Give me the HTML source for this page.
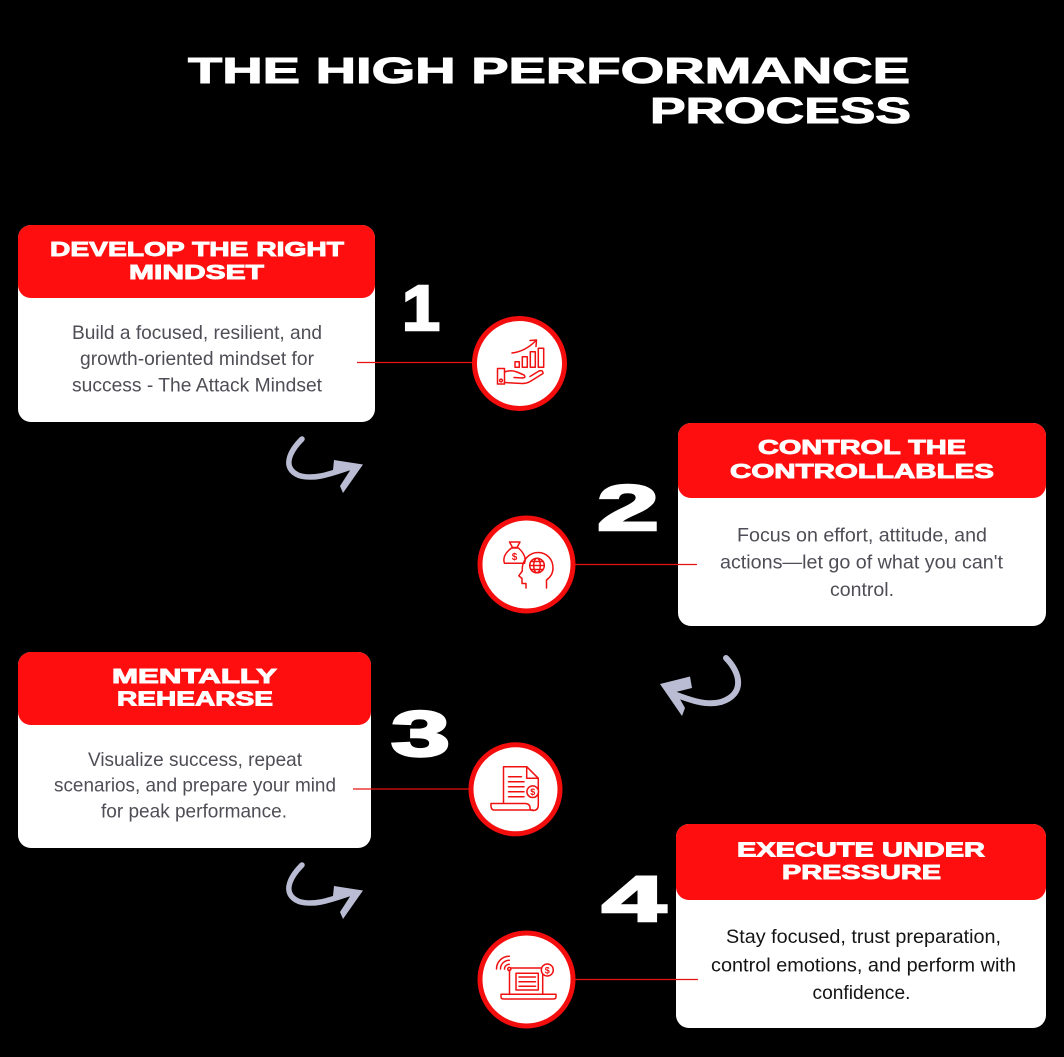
<!DOCTYPE html>
<html>
<head>
<meta charset="utf-8">
<style>
html,body{margin:0;padding:0;background:#000;}
svg{display:block;}
.t{font-family:"Liberation Sans",Arial,sans-serif;}
</style>
</head>
<body>
<svg width="1064" height="1057" viewBox="0 0 1064 1057" xmlns="http://www.w3.org/2000/svg">
<rect x="0" y="0" width="1064" height="1057" fill="#000"/>

<!-- Title -->
<g class="t" font-weight="700" font-size="36" fill="#fff" stroke="#fff" stroke-width="1">
<text x="188" y="83" textLength="722" lengthAdjust="spacingAndGlyphs">THE HIGH PERFORMANCE</text>
<text x="650" y="123" textLength="261" lengthAdjust="spacingAndGlyphs">PROCESS</text>
</g>

<!-- Cards -->
<g>
<rect x="18" y="225" width="357" height="197" rx="13" fill="#fff"/>
<rect x="18" y="225" width="357" height="73" rx="13" fill="#fe0e0e"/>

<rect x="678" y="423" width="368" height="203" rx="13" fill="#fff"/>
<rect x="678" y="423" width="368" height="75" rx="13" fill="#fe0e0e"/>

<rect x="18" y="652" width="353" height="196" rx="13" fill="#fff"/>
<rect x="18" y="652" width="353" height="73" rx="13" fill="#fe0e0e"/>

<rect x="676" y="824" width="370" height="204" rx="13" fill="#fff"/>
<rect x="676" y="824" width="370" height="76" rx="13" fill="#fe0e0e"/>
</g>

<!-- Connector lines -->
<g stroke="#e81010" stroke-width="1.3">
<line x1="357" y1="362.5" x2="474" y2="362.5"/>
<line x1="575" y1="564.5" x2="697" y2="564.5"/>
<line x1="353" y1="789" x2="470" y2="789"/>
<line x1="575" y1="979.5" x2="698" y2="979.5"/>
</g>

<!-- Header texts -->
<g class="t" font-weight="700" font-size="20" fill="#fff" stroke="#fff" stroke-width="0.9">
<text x="50" y="256" textLength="294" lengthAdjust="spacingAndGlyphs">DEVELOP THE RIGHT</text>
<text x="129" y="279" textLength="135" lengthAdjust="spacingAndGlyphs">MINDSET</text>

<text x="758" y="454" textLength="208" lengthAdjust="spacingAndGlyphs">CONTROL THE</text>
<text x="730" y="478" textLength="264" lengthAdjust="spacingAndGlyphs">CONTROLLABLES</text>

<text x="112" y="683" textLength="165" lengthAdjust="spacingAndGlyphs">MENTALLY</text>
<text x="117" y="705.5" textLength="156" lengthAdjust="spacingAndGlyphs">REHEARSE</text>

<text x="737" y="856.5" textLength="248" lengthAdjust="spacingAndGlyphs">EXECUTE UNDER</text>
<text x="782" y="879" textLength="159" lengthAdjust="spacingAndGlyphs">PRESSURE</text>
</g>

<!-- Body texts -->
<g class="t" font-size="19.5" fill="#4e4e56">
<text x="72" y="339" textLength="250" lengthAdjust="spacingAndGlyphs">Build a focused, resilient, and</text>
<text x="80" y="365" textLength="234" lengthAdjust="spacingAndGlyphs">growth-oriented mindset for</text>
<text x="72" y="391.5" textLength="250" lengthAdjust="spacingAndGlyphs">success - The Attack Mindset</text>

<text x="737" y="541.5" textLength="250" lengthAdjust="spacingAndGlyphs">Focus on effort, attitude, and</text>
<text x="720" y="568.5" textLength="283" lengthAdjust="spacingAndGlyphs">actions—let go of what you can't</text>
<text x="830" y="596" textLength="64" lengthAdjust="spacingAndGlyphs">control.</text>

<text x="88" y="766" textLength="214" lengthAdjust="spacingAndGlyphs">Visualize success, repeat</text>
<text x="54" y="791.7" textLength="282" lengthAdjust="spacingAndGlyphs">scenarios, and prepare your mind</text>
<text x="101" y="817.7" textLength="186" lengthAdjust="spacingAndGlyphs">for peak performance.</text>
</g>
<g class="t" font-size="19.5" fill="#141414">
<text x="726" y="943" textLength="275" lengthAdjust="spacingAndGlyphs">Stay focused, trust preparation,</text>
<text x="711" y="971.5" textLength="305" lengthAdjust="spacingAndGlyphs">control emotions, and perform with</text>
<text x="812.5" y="999" textLength="98" lengthAdjust="spacingAndGlyphs">confidence.</text>
</g>

<!-- Numbers -->
<g class="t" font-weight="700" font-size="64" fill="#fff" stroke="#fff" stroke-width="2.5">
<text x="402" y="330" textLength="38" lengthAdjust="spacingAndGlyphs">1</text>
<text x="597" y="530" textLength="62" lengthAdjust="spacingAndGlyphs">2</text>
<text x="391" y="756" textLength="59" lengthAdjust="spacingAndGlyphs">3</text>
<text x="602" y="921" textLength="64" lengthAdjust="spacingAndGlyphs">4</text>
</g>

<!-- Circles -->
<g fill="#fff" stroke="#f40d0d" stroke-width="5">
<circle cx="519.5" cy="363.5" r="45"/>
<circle cx="526.5" cy="564.5" r="46.5"/>
<circle cx="515.5" cy="789.3" r="44.5"/>
<circle cx="526.5" cy="979.5" r="46.5"/>
</g>

<!-- Icon 1: hand with growth bars -->
<g fill="none" stroke="#f01010" stroke-width="1.5" stroke-linejoin="round" stroke-linecap="round">
<rect x="497.5" y="368.5" width="7" height="15.5"/>
<circle cx="501" cy="380.5" r="1.4"/>
<path d="M504.5 372 Q511 369.5 517 372 L524 375 Q526.5 377.5 522.5 378 L514 377.5"/>
<path d="M504.5 382.5 L522 383.5 Q527 383.5 531 381 L543 373.5 Q543 369.5 539 371 L530 376.5"/>
<rect x="515" y="361.7" width="4.3" height="5.6"/>
<rect x="522.3" y="356.7" width="5" height="10.6"/>
<rect x="530.3" y="351.7" width="5" height="15.6"/>
<rect x="538.3" y="348.3" width="5.4" height="19"/>
<path d="M512 353 Q525 351.5 535.5 341"/>
<path d="M530 340.5 L536.5 340 L536 346.5"/>
</g>

<!-- Icon 2: money bag and head with globe -->
<g fill="none" stroke="#f01010" stroke-width="1.5" stroke-linejoin="round" stroke-linecap="round">
<path d="M511.5 548 L518.5 548 C524 553 526.5 558 524.5 563.3 L504.5 563.3 C502.5 558 505 553 511.5 548 Z"/>
<path d="M509.5 542 L520 542 L517 547.5 L512.5 547.5 Z"/>
<path d="M526 588 L526 583.5 L522 583.5 L522 578.5 L518.8 575.8 L522.3 571 C521.5 560 529.5 552.5 538 552.5 C547 552.5 553 559.5 553 568 C553 574 550 577.5 546.5 580 L546.5 588"/>
<circle cx="537" cy="565.5" r="7.3"/>
<ellipse cx="537" cy="565.5" rx="3.3" ry="7.3"/>
<line x1="529.7" y1="565.5" x2="544.3" y2="565.5"/>
<line x1="531" y1="561.5" x2="543" y2="561.5"/>
<line x1="531" y1="569.5" x2="543" y2="569.5"/>
</g>
<text class="t" x="514.5" y="560" font-size="10" font-weight="700" fill="#f01010" text-anchor="middle">$</text>

<!-- Icon 3: document with coin -->
<g fill="none" stroke="#f01010" stroke-width="1.5" stroke-linejoin="round" stroke-linecap="round">
<path d="M503.5 803 L503.5 766.7 L526.7 766.7 L538.3 778.3 L538.3 805"/>
<path d="M526.7 766.7 L526.7 778.3 L538.3 778.3"/>
<path d="M491 803.5 L525 803.5 Q530 803.5 530 808 Q530 810.5 533 810.5 Q538.3 810.5 538.3 805 M491 803.5 Q490.5 810 494 810 L533 810"/>
<line x1="508.5" y1="776.7" x2="521.5" y2="776.7"/>
<line x1="508.5" y1="781.7" x2="524" y2="781.7"/>
<line x1="508.5" y1="786.7" x2="524" y2="786.7"/>
<line x1="508.5" y1="791.7" x2="524" y2="791.7"/>
<line x1="508.5" y1="796.7" x2="524" y2="796.7"/>
<circle cx="532.7" cy="791.7" r="5.8" fill="#fff"/>
</g>
<text class="t" x="532.7" y="795.2" font-size="9" font-weight="700" fill="#f01010" text-anchor="middle">$</text>

<!-- Icon 4: laptop with wifi and coin -->
<g fill="none" stroke="#f01010" stroke-width="1.5" stroke-linejoin="round" stroke-linecap="round">
<path d="M509.5 970 L509.5 994.3 L542.7 994.3 L542.7 975"/>
<line x1="511" y1="968" x2="541" y2="968"/>
<path d="M501 994.3 L556 994.3 L556 997 Q556 999 553 999 L504 999 Q501 999 501 997 Z"/>
<rect x="516" y="973.3" width="22.3" height="16.7"/>
<line x1="519" y1="977" x2="535.5" y2="977"/>
<line x1="519" y1="981.7" x2="535.5" y2="981.7"/>
<line x1="519" y1="986.3" x2="535.5" y2="986.3"/>
<circle cx="509.3" cy="969" r="1.6"/>
<path d="M504.5 969 A4.8 4.8 0 0 1 509.3 964.2"/>
<path d="M500.5 969 A8.8 8.8 0 0 1 509.3 960.2"/>
<path d="M496.5 969 A12.8 12.8 0 0 1 509.3 956.2"/>
<circle cx="547.3" cy="970" r="6" fill="#fff"/>
</g>
<text class="t" x="547.3" y="973.5" font-size="9" font-weight="700" fill="#f01010" text-anchor="middle">$</text>

<!-- Curved arrows -->
<g fill="none" stroke="#b9bcd3" stroke-linecap="round">
<path d="M302 439 C290 451 281 468 299 475.5 C314 480 330 474 348 468" stroke-width="5.5"/>
<path d="M302 865 C290 877 281 894 299 901.5 C314 906 330 900 348 894" stroke-width="5.5"/>
<path d="M726 658 C740 672 746 694 721 702 C706 706 690 700 674 694" stroke-width="6"/>
</g>
<g fill="#b9bcd3">
<polygon points="334,460 363,464.5 343,493 340,486 350,470.5 333,470"/>
<polygon points="334,886 363,890.5 343,919 340,912 350,896.5 333,896"/>
<polygon points="690,676.5 660,684 682,716 685,708 676,692 692,688"/>
</g>
</svg>
</body>
</html>
